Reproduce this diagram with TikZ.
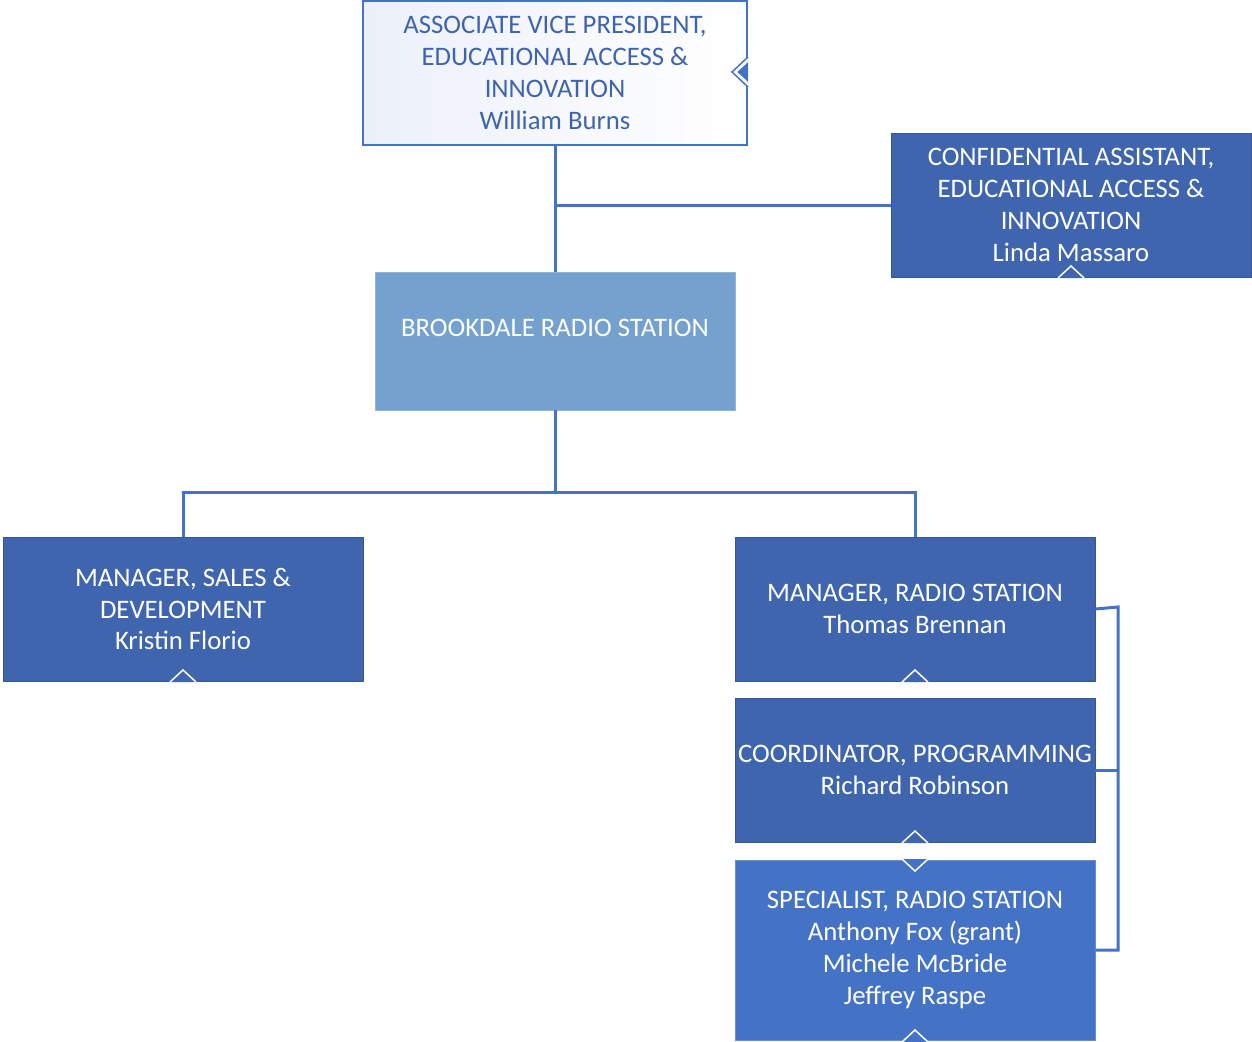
\documentclass[tikz,border=0pt]{standalone}
\usepackage{fontspec}
\setmainfont{Carlito}
\usepackage{tikz}

\definecolor{linecol}{RGB}{68,114,196}
\definecolor{darkfill}{RGB}{63,101,174}
\definecolor{specfill}{RGB}{68,114,196}
\definecolor{lightfill}{RGB}{117,161,206}
\definecolor{topfill}{RGB}{236,240,249}
\definecolor{toptext}{RGB}{63,100,174}

\begin{document}
\begin{tikzpicture}[
    x=0.02cm, y=-0.02cm,
    box/.style={rectangle, align=center, text=white, font=\fontsize{15.2}{18.1}\selectfont,
        minimum width=7.2cm, minimum height=2.88cm, inner sep=0pt},
    darkbox/.style={box, fill=darkfill, draw=darkfill!85!black, line width=0.5pt},
    link/.style={draw=linecol, line width=0.06cm},
    tick/.style={draw=white, line width=0.03cm}
]
    \useasboundingbox (0,0) rectangle (1252,1042);

    \node[box, minimum width=7.68cm, left color=topfill, right color=white,
          draw=linecol, line width=0.04cm, text=toptext] (avp) at (555,73)
        {ASSOCIATE VICE PRESIDENT,\\EDUCATIONAL ACCESS \&\\INNOVATION\\William Burns};
    \node[darkbox] (conf) at (1071,205)
        {CONFIDENTIAL ASSISTANT,\\EDUCATIONAL ACCESS \&\\INNOVATION\\Linda Massaro};
    \node[box, minimum height=2.76cm, fill=lightfill, draw=lightfill!80!white] (radio) at (555,341)
        {BROOKDALE RADIO STATION\\[-0.1cm]~};
    \node[darkbox] (sales) at (183,609) {MANAGER, SALES \&\\DEVELOPMENT\\Kristin Florio};
    \node[darkbox] (mgr) at (915,609) {MANAGER, RADIO STATION\\Thomas Brennan};
    \node[darkbox] (coord) at (915,770) {COORDINATOR, PROGRAMMING\\Richard Robinson};
    \node[box, minimum height=3.6cm, fill=specfill, draw=specfill!80!white] (spec) at (915,950)
        {SPECIALIST, RADIO STATION\\Anthony Fox (grant)\\Michele McBride\\Jeffrey Raspe};

    % connectors
    \coordinate (split) at (555,492);
    \coordinate (rail) at (1118,607);
    \draw[link] (avp.south) -- (radio.north);
    \draw[link] (conf.west) -- (avp.south |- conf.west);
    \draw[link] (radio.south) -- (split);
    \draw[link] (sales.north) |- (split) -| (mgr.north);
    \draw[link] (mgr.east) -- (rail) -- (rail |- spec.east) -- (spec.east);
    \draw[link] (coord.east) -- (rail |- coord.east);

    % small markers
    \draw[tick, fill=darkfill] (1058,278) -- (1071,266) -- (1084,278);
    \draw[tick, fill=darkfill] (170,682) -- (183,670) -- (196,682);
    \draw[tick, fill=darkfill] (902,682) -- (915,670) -- (928,682);
    \draw[tick, fill=darkfill] (902,843) -- (915,831) -- (928,843);
    \draw[tick, fill=specfill] (902,859) -- (915,871) -- (928,859);
    \draw[tick, fill=specfill] (902,1042) -- (915,1030) -- (928,1042);
    \draw[draw=linecol, line width=0.03cm, fill=white] (748,57) -- (732,72) -- (748,87);
    \draw[tick, fill=linecol] (748,61) -- (736,72) -- (748,83);
\end{tikzpicture}
\end{document}
